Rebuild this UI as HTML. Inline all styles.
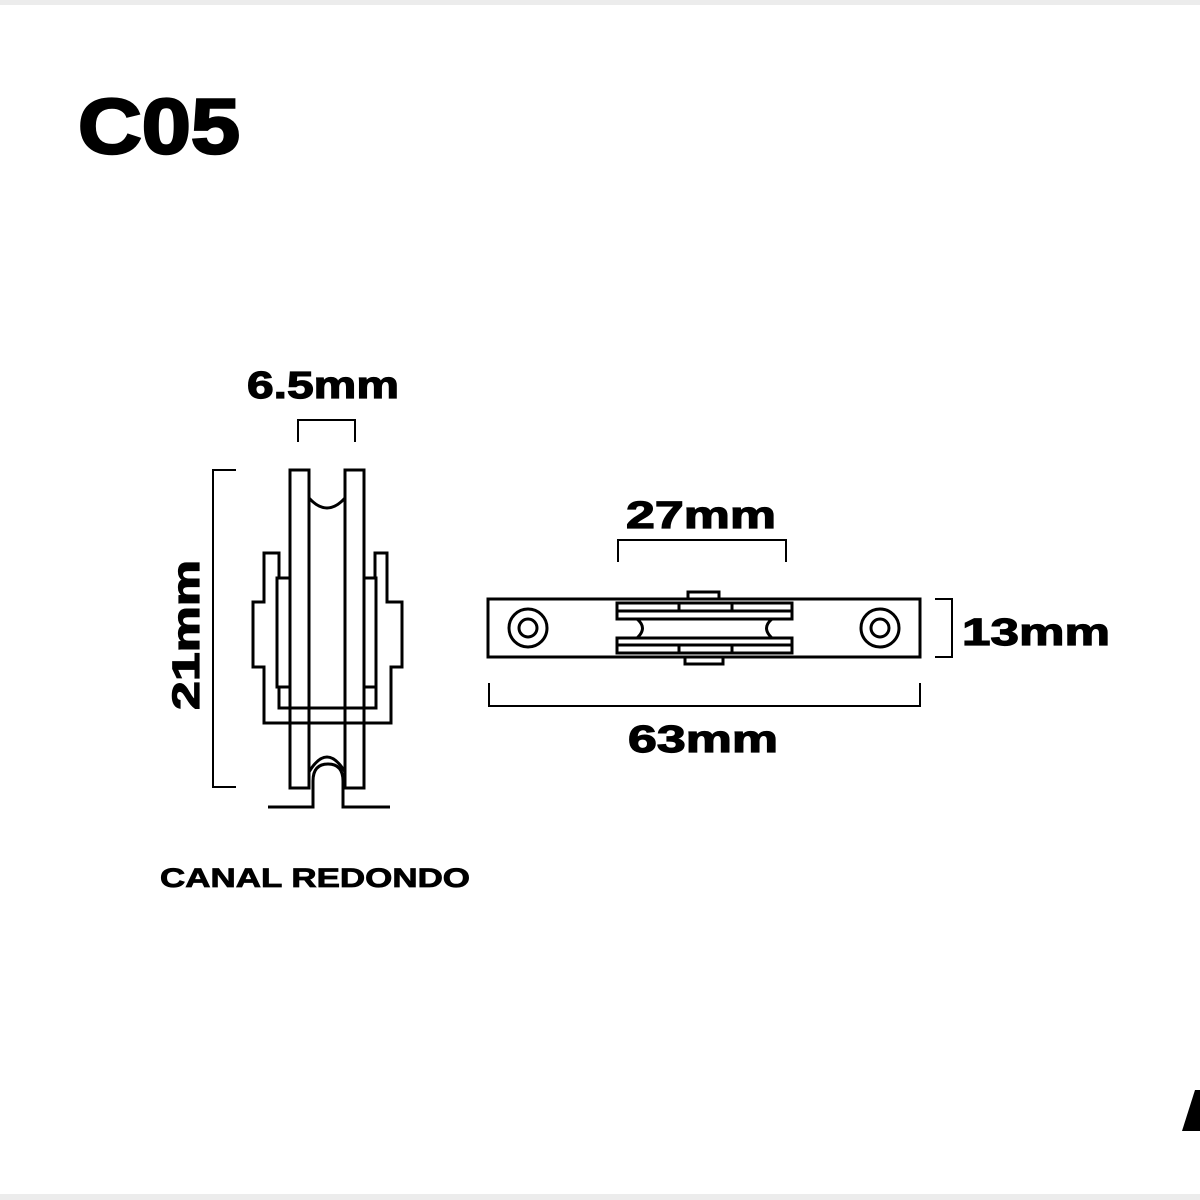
<!DOCTYPE html>
<html><head><meta charset="utf-8"><style>
html,body{margin:0;padding:0;background:#fff;}
svg{display:block;}
text{font-family:"Liberation Sans",sans-serif;font-weight:bold;fill:#000;stroke:#000;stroke-width:1.2;}
</style></head><body>
<svg width="1200" height="1200" viewBox="0 0 1200 1200" xmlns="http://www.w3.org/2000/svg">
<rect x="0" y="0" width="1200" height="5" fill="#ececec"/>
<rect x="0" y="1194" width="1200" height="6" fill="#ececec"/>
<text x="78" y="153" font-size="78" textLength="162" lengthAdjust="spacingAndGlyphs" style="stroke-width:2.5">C05</text>
<polygon points="1200,1090 1195,1090 1182,1131 1200,1131" fill="#000"/>

<g fill="none" stroke="#000" stroke-width="3">
<polyline points="236,470 213,470 213,787 236,787" stroke-width="2"/>
<polyline points="298,442 298,420 355,420 355,442" stroke-width="2"/>
<rect x="290" y="470" width="19" height="318"/>
<rect x="345" y="470" width="19" height="318"/>
<path d="M309,498 Q327,518 345,498"/>
<path d="M309,772 Q327,742 345,772"/>
<polyline points="279,578 279,553 264,553 264,602 253,602 253,667 264,667 264,723 391,723 391,667 402,667 402,602 387,602 387,553 375,553 375,578"/>
<rect x="277" y="578" width="13" height="109"/>
<rect x="364" y="578" width="12" height="109"/>
<polyline points="279,687 279,708 376,708 376,687"/>
<path d="M268,807 L313,807 L313,781 Q313,764 328,764 Q343,764 343,781 L343,807 L390,807"/>
<rect x="488" y="599" width="432" height="58"/>
<circle cx="528" cy="628" r="19"/>
<circle cx="528" cy="628" r="9"/>
<circle cx="880" cy="628" r="19"/>
<circle cx="880" cy="628" r="9"/>
<rect x="688" y="592" width="31" height="7"/>
<rect x="685" y="657" width="38" height="7"/>
<rect x="617" y="603" width="175" height="8"/>
<rect x="617" y="611" width="175" height="8"/>
<rect x="617" y="638" width="175" height="7"/>
<rect x="617" y="645" width="175" height="8"/>
<line x1="679" y1="603" x2="679" y2="611"/><line x1="732" y1="603" x2="732" y2="611"/>
<line x1="679" y1="645" x2="679" y2="653"/><line x1="732" y1="645" x2="732" y2="653"/>
<path d="M637,619 Q648,628 637,638"/>
<path d="M772,619 Q761,628 772,638"/>
<line x1="637" y1="619" x2="772" y2="619"/>
<line x1="637" y1="638" x2="772" y2="638"/>
<polyline points="618,562 618,540 786,540 786,562" stroke-width="2"/>
<polyline points="935,599 952,599 952,657 935,657" stroke-width="2"/>
<polyline points="489,683 489,706 920,706 920,683" stroke-width="2"/>
</g>
<text x="247" y="398" font-size="38" textLength="152" lengthAdjust="spacingAndGlyphs">6.5mm</text>
<text x="626" y="528" font-size="38" textLength="150" lengthAdjust="spacingAndGlyphs">27mm</text>
<text x="962" y="645" font-size="38" textLength="148" lengthAdjust="spacingAndGlyphs">13mm</text>
<text x="628" y="752" font-size="38" textLength="150" lengthAdjust="spacingAndGlyphs">63mm</text>
<text transform="translate(199,710) rotate(-90)" font-size="38" textLength="150" lengthAdjust="spacingAndGlyphs">21mm</text>
<text x="160" y="887" font-size="27" textLength="310" lengthAdjust="spacingAndGlyphs" style="stroke-width:0.8">CANAL REDONDO</text>
</svg>
</body></html>
